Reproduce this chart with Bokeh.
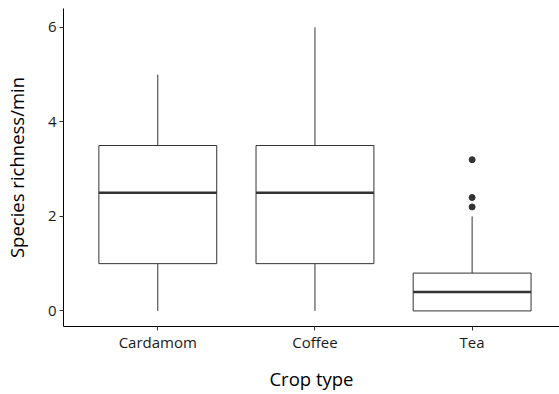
from bokeh.plotting import figure
from bokeh.models import Range1d, FixedTicker, ColumnDataSource
from bokeh.embed import file_html
from bokeh.resources import INLINE

crops = ["Cardamom", "Coffee", "Tea"]
lower_whisker = [0.0, 0.0, 0.0]
q1 = [1.0, 1.0, 0.0]
median = [2.5, 2.5, 0.4]
q3 = [3.5, 3.5, 0.8]
upper_whisker = [5.0, 6.0, 2.0]
outlier_crop = ["Tea", "Tea", "Tea"]
outlier_values = [2.2, 2.4, 3.2]
y_ticks = [0, 2, 4, 6]

pos = {c: i + 1 for i, c in enumerate(crops)}
xs = [pos[c] for c in crops]
box_w = 0.75

src = ColumnDataSource(dict(
    x=xs, lw=lower_whisker, q1=q1, med=median, q3=q3, uw=upper_whisker,
    ml=[x - box_w / 2 for x in xs], mr=[x + box_w / 2 for x in xs],
))
osrc = ColumnDataSource(dict(x=[pos[c] for c in outlier_crop], y=outlier_values))

FONT = "Open Sans"

p = figure(width=559, height=394, output_backend="svg", toolbar_location=None,
           x_range=Range1d(0.4, 3.556), y_range=Range1d(-0.33, 6.4),
           min_border_left=63, min_border_right=0, min_border_top=8, min_border_bottom=68)
p.outline_line_color = None
p.xgrid.visible = False
p.ygrid.visible = False
p.background_fill_color = "white"

# whiskers
p.segment(x0="x", y0="q3", x1="x", y1="uw", source=src, line_color="#333333", line_width=1)
p.segment(x0="x", y0="lw", x1="x", y1="q1", source=src, line_color="#333333", line_width=1)
# boxes
p.vbar(x="x", width=box_w, bottom="q1", top="q3", source=src,
       fill_color="white", line_color="#333333", line_width=1)
# medians
p.segment(x0="ml", y0="med", x1="mr", y1="med", source=src, line_color="#333333", line_width=2.5)
# outliers
p.scatter(x="x", y="y", source=osrc, size=6, color="#333333")

p.xaxis.ticker = FixedTicker(ticks=xs)
p.xaxis.major_label_overrides = {x: c for x, c in zip(xs, crops)}
p.yaxis.ticker = FixedTicker(ticks=y_ticks)

for ax in (p.xaxis[0], p.yaxis[0]):
    ax.axis_line_color = "black"
    ax.axis_line_width = 1
    ax.major_tick_line_color = "#333333"
    ax.major_tick_out = 4
    ax.major_tick_in = 0
    ax.minor_tick_line_color = None
    ax.major_label_text_font = FONT
    ax.major_label_text_font_size = "15px"
    ax.major_label_text_color = "#1a1a1a"
    ax.axis_label_text_font = FONT
    ax.axis_label_text_font_size = "18.5px"
    ax.axis_label_text_font_style = "normal"
    ax.axis_label_text_color = "black"

p.xaxis.axis_label = "Crop type"
p.yaxis.axis_label = "Species richness/min"
p.xaxis.major_label_standoff = 1
p.xaxis.axis_label_standoff = 11
p.yaxis.major_label_standoff = 3
p.yaxis.axis_label_standoff = 16

open("out.html", "w").write(file_html(p, INLINE))
